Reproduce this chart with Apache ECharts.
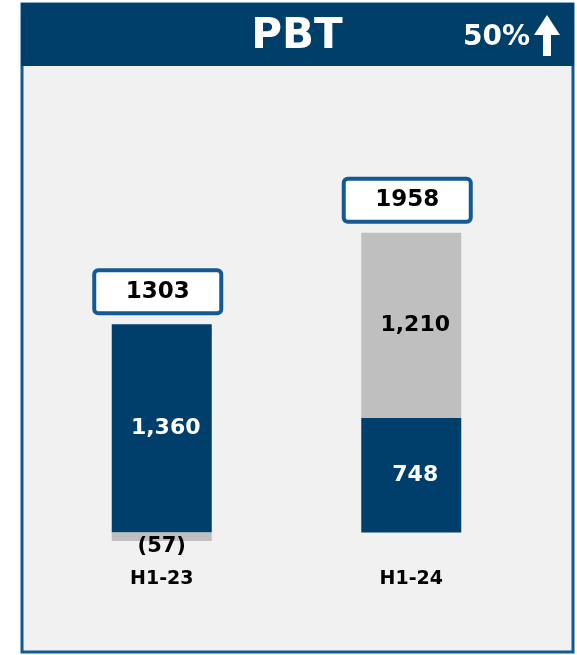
<!DOCTYPE html>
<html>
<head>
<meta charset="utf-8">
<script src="https://cdn.jsdelivr.net/npm/echarts@6/dist/echarts.min.js"></script>
<style>
  html, body { margin: 0; padding: 0; background: #fff; }
  #main { width: 577px; height: 655px; }
</style>
</head>
<body>
<div id="main"></div>
<script>
// chart data
var categories = ['H1-23', 'H1-24'];
var baseValues = [1360, 748];      // dark blue part
var otherValues = [-57, 1210];     // grey part
var totals = [1303, 1958];         // boxed totals
var titleText = 'PBT';
var changeText = '50%';

var NUMFONT = '"DejaVu Sans", sans-serif';
var DARK = '#003f6b';
var GREY = '#bfbfbf';
var EDGE = '#135994';

function fmt(v) {
  var s = Math.abs(v).toLocaleString('en-US');
  return v < 0 ? '(' + s + ')' : s;
}

// top of the positive stack, where the total box sits
var stackTops = baseValues.map(function (v, i) {
  return v + Math.max(otherValues[i], 0);
});

var chart = echarts.init(document.getElementById('main'));
chart.setOption({
  animation: false,
  backgroundColor: '#fff',
  graphic: [
    {
      type: 'rect', z: -10,
      shape: { x: 22, y: 4, width: 551, height: 648 },
      style: { fill: '#f1f1f1', stroke: EDGE, lineWidth: 3 }
    },
    {
      type: 'rect', z: -9,
      shape: { x: 21, y: 3, width: 553, height: 63 },
      style: { fill: '#003f6a' }
    },
    {
      type: 'text', z: 10,
      style: {
        text: titleText, x: 297, y: 37, align: 'center', verticalAlign: 'middle',
        fill: '#fff', font: 'bold 42px ' + NUMFONT
      }
    },
    {
      type: 'text', z: 10,
      style: {
        text: changeText, x: 530, y: 38, align: 'right', verticalAlign: 'middle',
        fill: '#fff', font: 'bold 28px ' + NUMFONT
      }
    },
    {
      type: 'polygon', z: 10,
      shape: { points: [[547, 15], [560, 35], [551, 35], [551, 56], [543, 56], [543, 35], [534, 35]] },
      style: { fill: '#fff' }
    }
  ],
  grid: { left: 37, right: 41, top: 165, height: 398 },
  xAxis: {
    type: 'category',
    data: categories,
    axisLine: { show: false, onZero: false },
    axisTick: { show: false },
    axisLabel: { color: '#000', fontWeight: 'bold', fontSize: 19, fontFamily: NUMFONT, margin: 7 }
  },
  yAxis: {
    type: 'value',
    min: -200,
    max: 2400,
    show: false,
    splitLine: { show: false }
  },
  series: [
    {
      name: 'base',
      type: 'bar',
      stack: 'pbt',
      barWidth: 100,
      itemStyle: { color: DARK },
      label: {
        show: true, position: 'inside', color: '#fff', fontWeight: 'bold',
        fontSize: 22, fontFamily: NUMFONT, offset: [4, 0],
        formatter: function (p) { return fmt(p.value); }
      },
      data: baseValues
    },
    {
      name: 'other',
      type: 'bar',
      stack: 'pbt',
      barWidth: 100,
      itemStyle: { color: GREY },
      label: {
        show: true, position: 'inside', color: '#000', fontWeight: 'bold',
        fontSize: 22, fontFamily: NUMFONT,
        formatter: function (p) { return fmt(p.value); }
      },
      data: otherValues.map(function (v) {
        return v < 0
          ? { value: v, label: { offset: [0, 10], fontSize: 21 } }
          : { value: v, label: { offset: [4, 0] } };
      })
    },
    {
      name: 'total',
      type: 'scatter',
      symbolSize: 0,
      z: 5,
      itemStyle: { opacity: 1 },
      label: {
        show: true, position: 'top', distance: 13, offset: [-4, 0],
        color: '#000', fontWeight: 'bold', fontSize: 23, fontFamily: NUMFONT,
        backgroundColor: '#fff', borderColor: EDGE, borderWidth: 4, borderRadius: 2,
        width: 123, height: 39, lineHeight: 39, align: 'center', opacity: 1,
        formatter: function (p) { return String(totals[p.dataIndex]); }
      },
      data: stackTops
    }
  ]
});
</script>
</body>
</html>
